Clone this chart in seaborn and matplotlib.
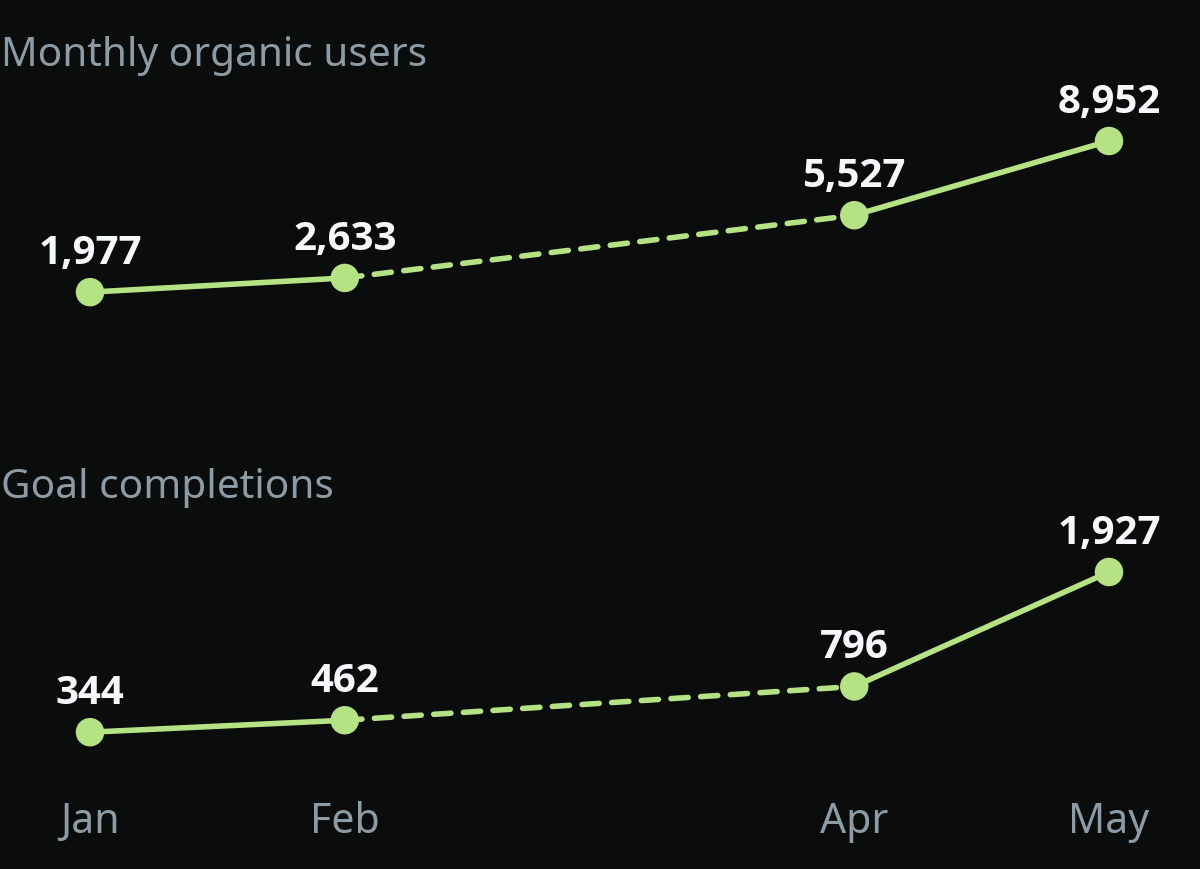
import matplotlib
matplotlib.use("Agg")
import matplotlib.pyplot as plt
import seaborn as sns
import pandas as pd

# ---- data ----
months = ["Jan", "Feb", "Apr", "May"]
month_index = [0, 1, 3, 4]
organic_users = [1977, 2633, 5527, 8952]
goal_completions = [344, 462, 796, 1927]
panel_titles = ["Monthly organic users", "Goal completions"]

BG = "#0b0d0d"
GREEN = "#b5e384"
GREY = "#8c9ca7"
WHITE = "#f5f8fa"

sns.set_theme(style="dark")
plt.rcParams["font.family"] = ["Noto Sans", "DejaVu Sans"]

fig = plt.figure(figsize=(12, 8.7), dpi=100, facecolor=BG)

W, H = 1200.0, 870.0
x_left_px, x_right_px = 90.0, 1109.0
panels = [
    (organic_users, 336.0, 142.0, 66.0),
    (goal_completions, 768.0, 573.0, 498.0),
]

LW = 4.0
axes = []
for i, (vals, zero_px, max_px, title_base_px) in enumerate(panels):
    ax = fig.add_axes([x_left_px / W, (H - zero_px) / H,
                       (x_right_px - x_left_px) / W, (zero_px - max_px) / H])
    ax.set_facecolor(BG)
    df = pd.DataFrame({"m": month_index, "v": vals, "label": months})
    # segments: solid where months are consecutive, dashed across gaps
    for j in range(len(df) - 1):
        seg = df.iloc[j:j + 2]
        gap = seg["m"].iloc[1] - seg["m"].iloc[0] > 1
        sns.lineplot(data=seg, x="m", y="v", ax=ax, color=GREEN, linewidth=LW,
                     linestyle=(0, (3.1, 2.25)) if gap else "-",
                     solid_capstyle="round", dash_capstyle="round",
                     clip_on=False, legend=False, sort=False)
    sns.scatterplot(data=df, x="m", y="v", ax=ax, color=GREEN, s=20.5 ** 2,
                    edgecolor="none", linewidth=0, clip_on=False, zorder=5,
                    legend=False)
    for m, v in zip(df["m"], df["v"]):
        ax.annotate(f"{v:,}", (m, v), xytext=(0, 21), textcoords="offset points",
                    ha="center", va="baseline", color=WHITE, fontsize=29,
                    fontweight="bold", family=["Open Sans", "DejaVu Sans"])
    ax.set_xlim(0, 4)
    ax.set_ylim(0, max(vals))
    ax.set_xlabel("")
    ax.set_ylabel("")
    ax.set_yticks([])
    for s in ax.spines.values():
        s.set_visible(False)
    ax.grid(False)
    fig.text(1 / W, (H - title_base_px) / H, panel_titles[i], color=GREY,
             fontsize=29.2, ha="left", va="baseline")
    axes.append(ax)

axes[0].set_xticks([])
axes[1].set_xticks(month_index)
axes[1].set_xticklabels(months)
axes[1].tick_params(axis="x", length=0, pad=24, labelsize=29.5, labelcolor=GREY)

fig.savefig("out.png", dpi=100, facecolor=BG)
